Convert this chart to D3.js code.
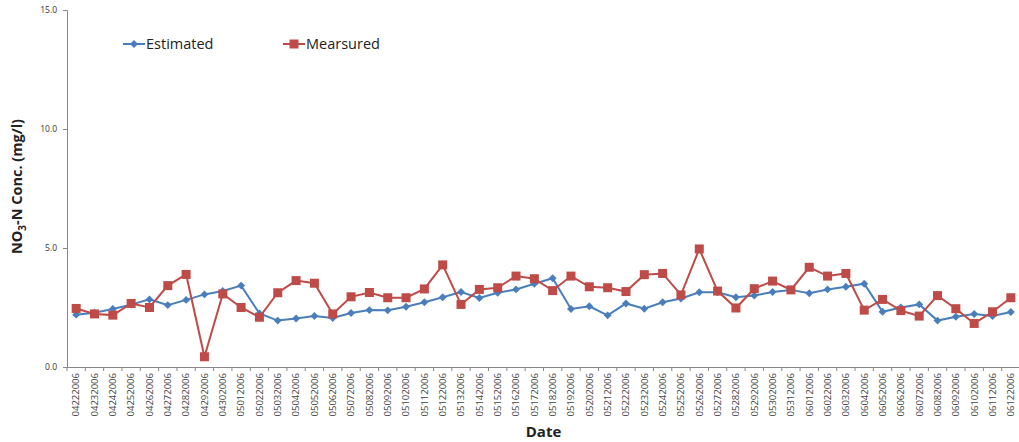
<!DOCTYPE html>
<html>
<head>
<meta charset="utf-8">
<script src="https://cdn.jsdelivr.net/npm/d3@7"></script>
<style>
  body { margin: 0; background: #fff; }
  text { font-family: "Open Sans", "DejaVu Sans", sans-serif; }
</style>
</head>
<body>
<div id="drawing"></div>
<script>
// chart size, same as the window
const width = 1019;
const height = 442;
const margin = {top: 10, right: -1, bottom: 75, left: 67};

// the data
const dates = [
  "04222006","04232006","04242006","04252006","04262006","04272006","04282006","04292006","04302006",
  "05012006","05022006","05032006","05042006","05052006","05062006","05072006","05082006","05092006",
  "05102006","05112006","05122006","05132006","05142006","05152006","05162006","05172006","05182006",
  "05192006","05202006","05212006","05222006","05232006","05242006","05252006","05262006","05272006",
  "05282006","05292006","05302006","05312006","06012006","06022006","06032006","06042006","06052006",
  "06062006","06072006","06082006","06092006","06102006","06112006","06122006"
];
const estimated = [
  2.20, 2.28, 2.44, 2.62, 2.84, 2.60, 2.82, 3.05, 3.19,
  3.42, 2.25, 1.95, 2.04, 2.14, 2.06, 2.27, 2.39, 2.38,
  2.53, 2.72, 2.93, 3.15, 2.90, 3.12, 3.26, 3.50, 3.73,
  2.44, 2.55, 2.17, 2.67, 2.45, 2.72, 2.88, 3.14, 3.14,
  2.93, 3.00, 3.15, 3.24, 3.10, 3.26, 3.37, 3.50, 2.32,
  2.50, 2.63, 1.95, 2.11, 2.23, 2.14, 2.31
];
const measured = [
  2.46, 2.23, 2.18, 2.67, 2.50, 3.42, 3.89, 0.43, 3.07,
  2.50, 2.09, 3.12, 3.63, 3.52, 2.23, 2.95, 3.13, 2.91,
  2.91, 3.28, 4.29, 2.63, 3.26, 3.33, 3.82, 3.71, 3.21,
  3.82, 3.37, 3.33, 3.17, 3.88, 3.93, 3.03, 4.96, 3.19,
  2.48, 3.29, 3.61, 3.24, 4.19, 3.82, 3.93, 2.39, 2.84,
  2.37, 2.14, 3.00, 2.45, 1.83, 2.32, 2.91
];
const yTicks = [0, 5, 10, 15];

const blue = "#4A7EBB";
const red = "#BE4B48";

const innerW = width - margin.left - margin.right;
const innerH = height - margin.top - margin.bottom;

const svg = d3.select("#drawing").append("svg")
  .attr("width", width)
  .attr("height", height);

const g = svg.append("g")
  .attr("transform", `translate(${margin.left},${margin.top})`);

const xScale = d3.scaleBand().domain(dates).range([0, innerW]);
const yScale = d3.scaleLinear().domain([0, 15]).range([innerH, 0]);
const xc = (d) => xScale(d) + xScale.bandwidth() / 2;

// y axis
const yAxis = g.append("g")
  .call(d3.axisLeft(yScale).tickValues(yTicks).tickFormat(d3.format(".1f")).tickSize(4));
yAxis.selectAll("text").attr("font-size", 8.5).attr("fill", "#333").attr("dx", -3);

// x axis, ticks between the categories
const xAxis = g.append("g")
  .attr("transform", `translate(0,${innerH})`)
  .call(d3.axisBottom(xScale).tickSize(0).tickSizeOuter(0));
xAxis.selectAll("text")
  .attr("font-size", 9.5)
  .attr("fill", "#444")
  .attr("transform", "rotate(-90)")
  .attr("text-anchor", "end")
  .attr("x", -6)
  .attr("y", 0)
  .attr("dy", "0.35em");
xAxis.selectAll(".tickmark")
  .data(dates.concat(["end"]))
  .enter()
  .append("line")
    .attr("class", "tickmark")
    .attr("x1", (d, i) => i * xScale.step())
    .attr("x2", (d, i) => i * xScale.step())
    .attr("y1", 0)
    .attr("y2", 4)
    .attr("stroke", "#888");
svg.selectAll(".domain").attr("stroke", "#888");
svg.selectAll(".tick line").attr("stroke", "#888");

// lines
const line = d3.line()
  .x((d, i) => xc(dates[i]))
  .y((d) => yScale(d));

g.append("path")
  .datum(estimated)
  .attr("fill", "none")
  .attr("stroke", blue)
  .attr("stroke-width", 2)
  .attr("d", line);

g.append("path")
  .datum(measured)
  .attr("fill", "none")
  .attr("stroke", red)
  .attr("stroke-width", 2)
  .attr("d", line);

// markers
const diamond = d3.symbol().type(d3.symbolDiamond2).size(40);
g.selectAll(".est")
  .data(estimated)
  .enter()
  .append("path")
    .attr("class", "est")
    .attr("d", diamond)
    .attr("transform", (d, i) => `translate(${xc(dates[i])},${yScale(d)})`)
    .attr("fill", blue);

g.selectAll(".mea")
  .data(measured)
  .enter()
  .append("rect")
    .attr("class", "mea")
    .attr("x", (d, i) => xc(dates[i]) - 4.5)
    .attr("y", (d) => yScale(d) - 4.5)
    .attr("width", 9)
    .attr("height", 9)
    .attr("fill", red);

// legend
const legend = [
  {name: "Estimated", color: blue, x: 123, marker: "diamond"},
  {name: "Mearsured", color: red, x: 283, marker: "square"}
];
const lg = svg.append("g").attr("transform", "translate(0,44)");
legend.forEach((l) => {
  lg.append("line")
    .attr("x1", l.x).attr("x2", l.x + 22)
    .attr("y1", 0).attr("y2", 0)
    .attr("stroke", l.color).attr("stroke-width", 2);
  if (l.marker === "diamond") {
    lg.append("path")
      .attr("d", diamond)
      .attr("transform", `translate(${l.x + 11},0)`)
      .attr("fill", l.color);
  } else {
    lg.append("rect")
      .attr("x", l.x + 6.5).attr("y", -4.5)
      .attr("width", 9).attr("height", 9)
      .attr("fill", l.color);
  }
  lg.append("text")
    .attr("x", l.x + 23)
    .attr("y", 0)
    .attr("dy", "0.35em")
    .attr("font-size", 14.5)
    .attr("fill", "#222")
    .text(l.name);
});

// axis titles
const yTitle = svg.append("text")
  .attr("transform", `translate(22,${margin.top + innerH / 2 - 2}) rotate(-90)`)
  .attr("text-anchor", "middle")
  .attr("font-size", 14.5)
  .attr("font-weight", "bold")
  .attr("fill", "#222");
yTitle.append("tspan").text("NO");
yTitle.append("tspan").attr("font-size", 10).attr("dy", 4).text("3");
yTitle.append("tspan").attr("dy", -4).text("-N Conc. (mg/l)");

svg.append("text")
  .attr("x", margin.left + innerW / 2)
  .attr("y", 437)
  .attr("text-anchor", "middle")
  .attr("font-size", 15)
  .attr("font-weight", "bold")
  .attr("fill", "#222")
  .text("Date");
</script>
</body>
</html>
